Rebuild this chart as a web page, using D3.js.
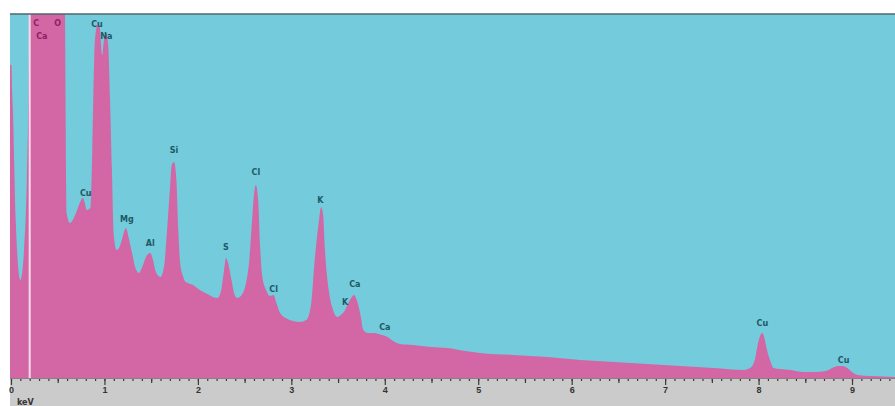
<!DOCTYPE html>
<html>
<head>
<meta charset="utf-8">
<script src="https://cdn.jsdelivr.net/npm/d3@7"></script>
<style>
    html, body { margin: 0; padding: 0; background: #fff; }
    svg { display: block; font-family: "DejaVu Sans", Arial, sans-serif; }
</style>
</head>
<body>
<div id="chart"></div>
<script>
// EDS spectrum: energy (keV) and counts
const energy = [
    0, 0.02, 0.05, 0.10, 0.14, 0.17, 0.19, 0.21, 0.28, 0.36, 0.44, 0.525, 0.575, 0.595,
    0.63, 0.70, 0.74, 0.77, 0.79, 0.81, 0.85, 0.87, 0.89, 0.91, 0.93, 0.95, 0.975, 0.995,
    1.02, 1.04, 1.06, 1.08, 1.10, 1.13, 1.17, 1.20, 1.23, 1.26, 1.30, 1.34, 1.37, 1.40,
    1.45, 1.49, 1.52, 1.55, 1.60, 1.64, 1.67, 1.70, 1.72, 1.745, 1.77, 1.79, 1.81, 1.84,
    1.87, 1.95, 2.02, 2.10, 2.16, 2.21, 2.25, 2.28, 2.30, 2.32, 2.36, 2.39, 2.42, 2.46,
    2.51, 2.55, 2.58, 2.60, 2.62, 2.645, 2.665, 2.69, 2.73, 2.77, 2.81, 2.84, 2.88, 2.94,
    3.02, 3.09, 3.16, 3.21, 3.25, 3.29, 3.32, 3.34, 3.36, 3.40, 3.44, 3.49, 3.53, 3.575,
    3.61, 3.64, 3.67, 3.70, 3.74, 3.77, 3.82, 3.88, 3.93, 3.97, 4.03, 4.09, 4.16, 4.30,
    4.49, 4.67, 4.86, 5.02, 5.37, 5.74, 6.09, 6.45, 6.81, 7.16, 7.52, 7.84, 7.91, 7.96,
    7.99, 8.02, 8.04, 8.06, 8.09, 8.13, 8.16, 8.23, 8.34, 8.48, 8.61, 8.72, 8.79, 8.85,
    8.90, 8.95, 9.00, 9.06, 9.20, 9.46
];
const counts = [
    3130, 2680, 1580, 980, 1280, 1980, 2980, 5000, 9500, 5000, 4200, 7000, 4000, 1650,
    1550, 1660, 1760, 1800, 1750, 1680, 1700, 2280, 3180, 3480, 3540, 3500, 3230, 3380,
    3450, 3330, 2780, 2080, 1430, 1280, 1330, 1430, 1500, 1400, 1230, 1080, 1050, 1100,
    1220, 1250, 1180, 1060, 1010, 1130, 1480, 1880, 2130, 2160, 1980, 1480, 1150, 1020,
    960, 930, 880, 840, 810, 800, 880, 1080, 1200, 1160, 980, 840, 800, 820,
    930, 1180, 1580, 1830, 1930, 1780, 1330, 1010, 880, 820, 830, 750, 650, 600,
    570, 560, 580, 730, 1180, 1530, 1710, 1630, 1280, 880, 700, 610, 630, 680,
    750, 800, 830, 780, 630, 480, 450, 450, 440, 430, 410, 370, 340, 330,
    310, 300, 270, 250, 230, 210, 180, 160, 140, 120, 100, 80, 100, 180,
    330, 430, 450, 410, 280, 160, 100, 90, 80, 60, 60, 70, 100, 120,
    120, 100, 60, 30, 20, 10
];

// peak labels: text, energy and count at the label centre
const peakNames = ['C', 'O', 'Ca', 'Cu', 'Na', 'Cu', 'Mg', 'Al', 'Si', 'S', 'Cl', 'Cl', 'K', 'Ca', 'K', 'Ca', 'Cu', 'Cu'];
const peakEnergy = [0.27, 0.50, 0.33, 0.92, 1.02, 0.80, 1.24, 1.49, 1.745, 2.30, 2.62, 2.81, 3.31, 3.68, 3.575, 4.0, 8.04, 8.91];
const peakCount = [3550, 3550, 3420, 3540, 3420, 1850, 1590, 1350, 2280, 1310, 2060, 890, 1780, 940, 760, 510, 550, 180];
const onPink = [true, true, true, false, false, false, false, false, false, false, false, false, false, false, false, false, false, false];

const tickValues = [0, 1, 2, 3, 4, 5, 6, 7, 8, 9];
const cursorEnergy = 0.2;

const W = 895, H = 406;
const margin = {top: 14, right: 0, bottom: 28, left: 10};
const plotBottom = H - margin.bottom;

const svg = d3.select('#chart').append('svg')
    .attr('width', W)
    .attr('height', H);

const x = d3.scaleLinear()
    .domain([0, 9.46])
    .range([11, W]);

const y = d3.scaleLinear()
    .domain([0, 3640])
    .range([plotBottom, margin.top]);

svg.append('clipPath')
    .attr('id', 'plotClip')
    .append('rect')
    .attr('x', margin.left)
    .attr('y', margin.top)
    .attr('width', W - margin.left)
    .attr('height', plotBottom - margin.top);

// background
svg.append('rect')
    .attr('x', margin.left)
    .attr('y', margin.top)
    .attr('width', W - margin.left)
    .attr('height', plotBottom - margin.top)
    .attr('fill', '#74cbdb');

svg.append('rect')
    .attr('x', margin.left)
    .attr('y', plotBottom)
    .attr('width', W - margin.left)
    .attr('height', H - plotBottom)
    .attr('fill', '#cbcbcb');

const data = energy.map((e, i) => ({e: e, c: counts[i]}));

const area = d3.area()
    .curve(d3.curveMonotoneX)
    .x(d => x(d.e))
    .y0(plotBottom)
    .y1(d => y(d.c));

const plot = svg.append('g').attr('clip-path', 'url(#plotClip)');

plot.append('path')
    .datum(data)
    .attr('fill', '#d366a5')
    .attr('d', area);

// left edge strip
plot.append('rect')
    .attr('x', margin.left)
    .attr('y', y(3130))
    .attr('width', 1.5)
    .attr('height', plotBottom - y(3130))
    .attr('fill', '#d366a5');

// cursor line
plot.append('line')
    .attr('x1', x(cursorEnergy)).attr('x2', x(cursorEnergy))
    .attr('y1', margin.top).attr('y2', plotBottom)
    .attr('stroke', '#f6dcea')
    .attr('stroke-width', 2);

// top frame line
svg.append('line')
    .attr('x1', margin.left).attr('x2', W)
    .attr('y1', margin.top).attr('y2', margin.top)
    .attr('stroke', '#50666b')
    .attr('stroke-width', 1.5);

// peak labels
svg.append('g')
    .selectAll('text')
    .data(peakNames)
    .join('text')
    .attr('x', (d, i) => x(peakEnergy[i]))
    .attr('y', (d, i) => y(peakCount[i]))
    .attr('dy', '0.35em')
    .attr('text-anchor', 'middle')
    .attr('font-size', 8)
    .attr('font-weight', 'bold')
    .attr('fill', (d, i) => onPink[i] ? '#8e1f5f' : '#1d5965')
    .text(d => d);

// axis: minor ticks every 0.1 keV, medium at 0.5, major at integers
const minorTicks = d3.range(0, 95).map(i => i / 10);

const minorAxis = d3.axisBottom(x)
    .tickValues(minorTicks)
    .tickSize(3)
    .tickFormat('');

const halfAxis = d3.axisBottom(x)
    .tickValues(d3.range(0, 10).map(i => i + 0.5))
    .tickSize(5)
    .tickFormat('');

const mainAxis = d3.axisBottom(x)
    .tickValues(tickValues)
    .tickSize(7)
    .tickPadding(2)
    .tickFormat(d3.format('d'));

[minorAxis, halfAxis, mainAxis].forEach(ax => {
    const g = svg.append('g')
        .attr('transform', 'translate(0,' + plotBottom + ')')
        .call(ax);
    g.select('.domain').remove();
    g.selectAll('line').attr('stroke', '#3a3a3a').attr('stroke-width', 1.2);
    g.selectAll('text')
        .attr('fill', '#333')
        .attr('font-size', 9)
        .attr('font-weight', 'bold');
});

svg.append('line')
    .attr('x1', margin.left).attr('x2', W)
    .attr('y1', plotBottom + 0.5).attr('y2', plotBottom + 0.5)
    .attr('stroke', '#8a7f87')
    .attr('stroke-width', 1);

svg.append('text')
    .attr('x', 17)
    .attr('y', 405)
    .attr('font-size', 8)
    .attr('font-weight', 'bold')
    .attr('fill', '#333')
    .text('keV');
</script>
</body>
</html>
